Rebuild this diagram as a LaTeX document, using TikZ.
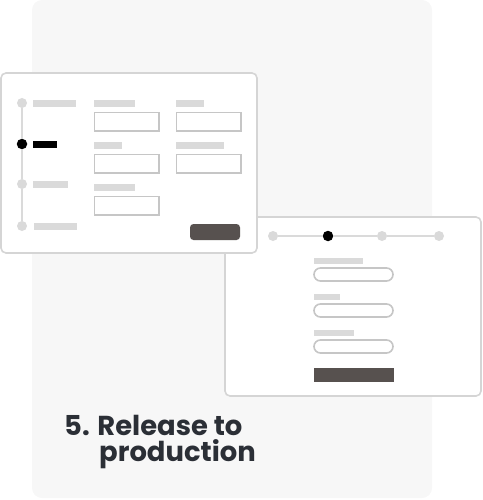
\documentclass[tikz,border=0pt]{standalone}
\usepackage{fontspec}
\newfontfamily\titlefont{Poppins}
\definecolor{panelbg}{HTML}{F7F7F7}
\definecolor{cardline}{HTML}{D5D5D5}
\definecolor{barfill}{HTML}{DADADA}
\definecolor{inputline}{HTML}{C6C6C6}
\definecolor{darkbtn}{HTML}{57514F}
\definecolor{titlecol}{HTML}{2B2F36}
\tikzset{
  card/.style={draw=cardline, line width=1.6pt, fill=white, rounded corners=5pt},
  bar/.style={fill=barfill, draw=none},
  inputbox/.style={draw=inputline, line width=1.6pt, fill=white},
  pill/.style={draw=inputline, line width=1.6pt, fill=white, rounded corners=6.5pt},
  dotg/.style={circle, fill=barfill, inner sep=0pt, minimum size=10pt},
  dotb/.style={circle, fill=black, inner sep=0pt, minimum size=10.5pt},
  track/.style={draw=barfill, line width=1.8pt},
  title/.style={font=\titlefont\bfseries\fontsize{27.4}{28}\selectfont, text=titlecol, inner sep=0pt, anchor=base west}
}
\begin{document}
\begin{tikzpicture}[x=1pt,y=-1pt]
\useasboundingbox (0,0) rectangle (482,500);
% background panel
\fill[panelbg, rounded corners=10pt] (32,0) rectangle (432,498);
% right card
\draw[card] (225,217) rectangle (481,396);
\node[dotg] (r1) at (273,236) {};
\node[dotb] (r2) at (328,236) {};
\node[dotg] (r3) at (382,236) {};
\node[dotg] (r4) at (439,236) {};
\draw[track] (r1) -- (r2);
\draw[track] (r2) -- (r3);
\draw[track] (r3) -- (r4);
\fill[bar] (314,258) rectangle (363,264);
\draw[pill] (314,268) rectangle (393,281);
\fill[bar] (314,294) rectangle (340,300);
\draw[pill] (314,304) rectangle (393,317);
\fill[bar] (314,330) rectangle (354,336);
\draw[pill] (314,340) rectangle (393,353);
\fill[darkbtn] (314,368) rectangle (394,382);
% left card
\draw[card] (1,73) rectangle (257,253);
\node[dotg] (l1) at (22,103) {};
\node[dotb] (l2) at (22,144) {};
\node[dotg] (l3) at (22,184) {};
\node[dotg] (l4) at (22,226) {};
\draw[track] (l1) -- (l2);
\draw[track] (l2) -- (l3);
\draw[track] (l3) -- (l4);
\fill[bar] (33,100) rectangle (76,107);
\fill[black] (33,140.5) rectangle (57,147.5);
\fill[bar] (33,180.5) rectangle (68,187.5);
\fill[bar] (34,222.5) rectangle (77,229.5);
\fill[bar] (94,100) rectangle (135,107);
\draw[inputbox] (94.5,112.5) rectangle (159,131);
\fill[bar] (176,100) rectangle (204,107);
\draw[inputbox] (176.5,112.5) rectangle (241,131);
\fill[bar] (94,142) rectangle (122,149);
\draw[inputbox] (94.5,154.5) rectangle (159,173);
\fill[bar] (176,142) rectangle (224,149);
\draw[inputbox] (176.5,154.5) rectangle (241,173);
\fill[bar] (94,184) rectangle (135,191);
\draw[inputbox] (94.5,196.5) rectangle (159,215);
\fill[darkbtn, rounded corners=3.5pt] (190,224) rectangle (240,240);
% title
\node[title] (t1) at (64,435) {5. Release to};
\node[title] (t2) at (99,461) {production};
\end{tikzpicture}
\end{document}
